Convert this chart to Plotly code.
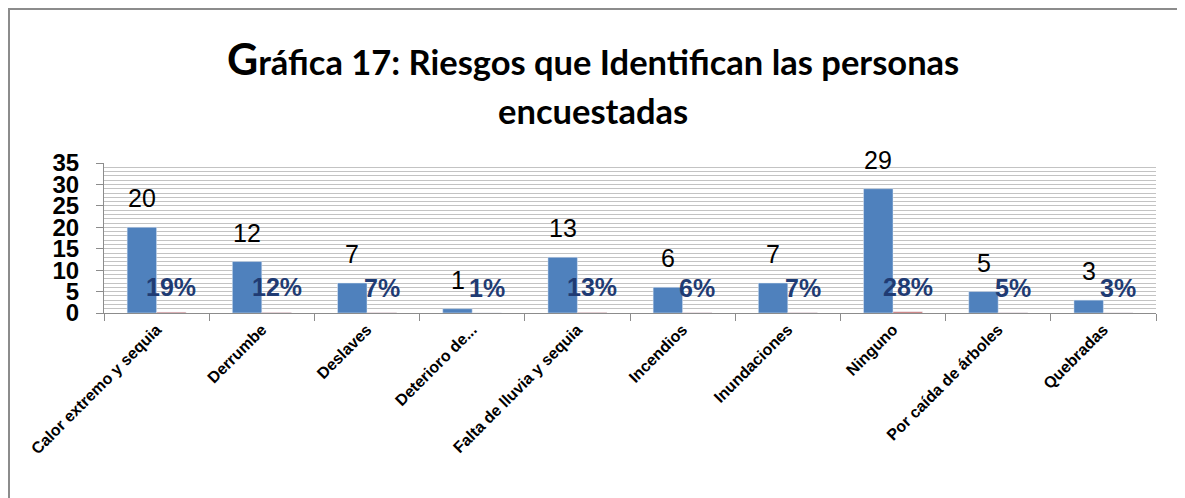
import plotly.graph_objects as go

categories = ["Calor extremo y sequia", "Derrumbe", "Deslaves", "Deterioro de...",
              "Falta de lluvia y sequia", "Incendios", "Inundaciones", "Ninguno",
              "Por caída de árboles", "Quebradas"]
counts = [20, 12, 7, 1, 13, 6, 7, 29, 5, 3]
shares = [0.19, 0.12, 0.07, 0.01, 0.13, 0.06, 0.07, 0.28, 0.05, 0.03]
y_ticks = [0, 5, 10, 15, 20, 25, 30, 35]

BLUE = "#4f81bd"
RED = "#c0504d"
NAVY = "#1f3b73"
GRID = "#c3c3c3"
AXIS = "#8c8c8c"
ARIAL = "Liberation Sans, Arial, sans-serif"

fig = go.Figure()
fig.add_trace(go.Bar(x=categories, y=counts, name="Cantidad", marker_color=BLUE))
fig.add_trace(go.Bar(x=categories, y=shares, name="Porcentaje", marker_color=RED))

# data labels, offset like Excel's "outside end"
shift = 14.7
for cat, c, s in zip(categories, counts, shares):
    fig.add_annotation(x=cat, y=c, text=str(c), showarrow=False, yanchor="bottom",
                       xshift=-shift, yshift=13,
                       font=dict(family=ARIAL, size=25, color="black"))
    fig.add_annotation(x=cat, y=s, text=f"{round(s * 100)}%", showarrow=False,
                       yanchor="bottom", xshift=shift, yshift=9,
                       font=dict(family=ARIAL, size=25, color=NAVY, weight="bold"))

# two-line title
title_font = dict(family="Lato, sans-serif", size=34.5, color="black", weight="bold")
fig.add_annotation(xref="paper", yref="paper", x=0.465, y=1.70, showarrow=False,
                   text="<span style='font-size:43px'>G</span>ráfica 17: Riesgos que Identifican las personas",
                   font=title_font, yanchor="middle")
fig.add_annotation(xref="paper", yref="paper", x=0.465, y=1.35, showarrow=False,
                   text="encuestadas", font=title_font, yanchor="middle")

# outer chart border
fig.add_shape(type="rect", xref="paper", yref="paper", x0=-0.0903, x1=1.0266,
              y0=-1.3, y1=2.0267, line=dict(color=AXIS, width=2))

# page body has an 8px margin, so the figure is trimmed by that much
fig.update_layout(
    width=1177, height=490,
    margin=dict(l=96, r=29, t=155, b=185),
    paper_bgcolor="white", plot_bgcolor="white",
    barmode="group", bargap=0.44, bargroupgap=0,
    showlegend=False,
)
fig.update_xaxes(
    type="category", tickangle=-45, showline=True, linecolor=AXIS, linewidth=1,
    ticks="outside", tickson="boundaries", ticklen=7, tickcolor=AXIS,
    tickfont=dict(family=ARIAL, size=16, color="black", weight="bold"),
    showgrid=False,
)
fig.update_yaxes(
    range=[0, 35], tickvals=y_ticks, showline=True, linecolor=AXIS, linewidth=1,
    ticks="outside", ticklen=7, tickcolor=AXIS, ticklabelstandoff=12,
    tickfont=dict(family=ARIAL, size=24, color="black", weight="bold"),
    showgrid=True, gridcolor=GRID, gridwidth=1, zeroline=False,
    minor=dict(dtick=1, showgrid=True, gridcolor=GRID, gridwidth=1),
)

fig.write_html("out.html")
